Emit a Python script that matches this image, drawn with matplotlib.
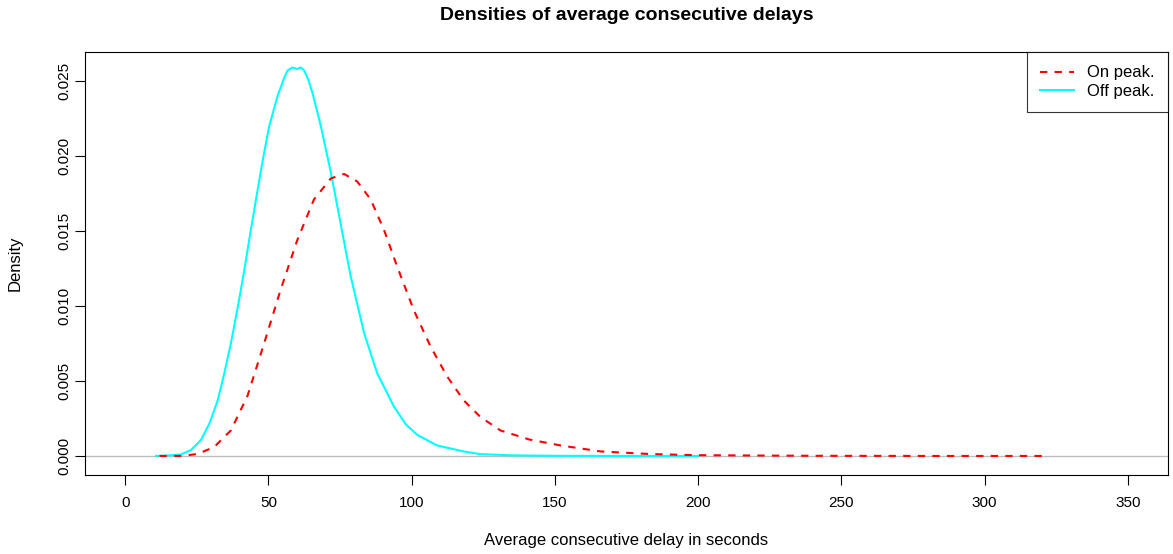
import matplotlib.pyplot as plt
import numpy as np

plt.rcParams['font.family'] = ['Liberation Sans', 'DejaVu Sans']

# density curves (x in seconds, y density)
off_x = [10.8, 15, 19.5, 23, 26.5, 29.5, 32.3, 34.6, 36.9, 39.3, 41.6, 43.9, 46.2, 48.3,
         50.3, 53.2, 55.5, 56.7, 58.4, 60, 61.3, 62.5, 63.9, 65.4, 68.3, 71.8, 75.2, 78.7,
         83.4, 88.0, 93.8, 98, 102, 108.9, 118.2, 124, 135, 150, 170, 200]
off_y = [0.0, 0.00003, 0.0001, 0.0004, 0.00107, 0.0022, 0.0037, 0.0055, 0.0075, 0.0099,
         0.0124, 0.0151, 0.0177, 0.0200, 0.0220, 0.0240, 0.0252, 0.0257, 0.0259, 0.0258,
         0.0259, 0.0257, 0.0251, 0.0242, 0.0220, 0.0189, 0.0155, 0.0120, 0.0082, 0.0055,
         0.0033, 0.0021, 0.0014, 0.0007, 0.0003, 0.00012, 0.00004, 0.00001, 0.0, 0.0]

on_x = [12, 19.5, 25.3, 31.1, 36.9, 42.7, 48.5, 54.3, 60.1, 65.9, 71.8, 76.4, 81.0, 85.7,
        90.3, 95.0, 100.8, 106.6, 112.4, 118.2, 124, 131, 141, 152, 166, 183, 200, 240,
        280, 320]
on_y = [0.0, 0.0, 0.00013, 0.0006, 0.0017, 0.0040, 0.0075, 0.0111, 0.0144, 0.0171, 0.0185,
        0.0188, 0.0183, 0.0171, 0.0151, 0.0126, 0.0097, 0.0073, 0.0053, 0.0037, 0.0026,
        0.0017, 0.0011, 0.0007, 0.0003, 0.00013, 0.00005, 0.00001, 0.0, 0.0]

x_ticks = [0, 50, 100, 150, 200, 250, 300, 350]
y_ticks = [0.0, 0.005, 0.010, 0.015, 0.020, 0.025]

fig = plt.figure(figsize=(11.73, 5.54), dpi=100)
ax = fig.add_axes([0.0725, 0.1426, 0.9232, 0.7635])

ax.axhline(0, color='#bebebe', lw=1.0, zorder=1)
ax.plot(on_x, on_y, color='red', lw=1.5, ls=(0, (3.5, 3.5)), label='On peak.', zorder=3)
ax.plot(off_x, off_y, color='cyan', lw=1.5, label='Off peak.', zorder=2)

ax.set_xlim(-14, 364)
ax.set_ylim(-0.00127, 0.02693)
ax.set_xticks(x_ticks)
ax.set_xticklabels([str(v) for v in x_ticks])
ax.set_yticks(y_ticks)
ax.set_yticklabels(['%.3f' % v for v in y_ticks], rotation=90, va='center')
ax.tick_params(direction='out', length=7, width=0.8, labelsize=11)
ax.tick_params(axis='x', pad=8)
ax.tick_params(axis='y', pad=3)
for s in ax.spines.values():
    s.set_linewidth(0.8)

ax.set_title('Densities of average consecutive delays', fontsize=14, fontweight='bold', pad=23)
ax.set_xlabel('Average consecutive delay in seconds', fontsize=12)
ax.set_ylabel('Density', fontsize=12)
ax.xaxis.set_label_coords(0.5, -0.137)
ax.yaxis.set_label_coords(-0.0575, 0.5)

leg = ax.legend(loc='upper right', fontsize=12, frameon=True, fancybox=False,
                borderaxespad=0, handlelength=2.0, handletextpad=0.8, borderpad=0.8,
                labelspacing=0.2)
leg.get_frame().set_edgecolor('black')
leg.get_frame().set_linewidth(0.8)

fig.savefig('out.png', dpi=100)
